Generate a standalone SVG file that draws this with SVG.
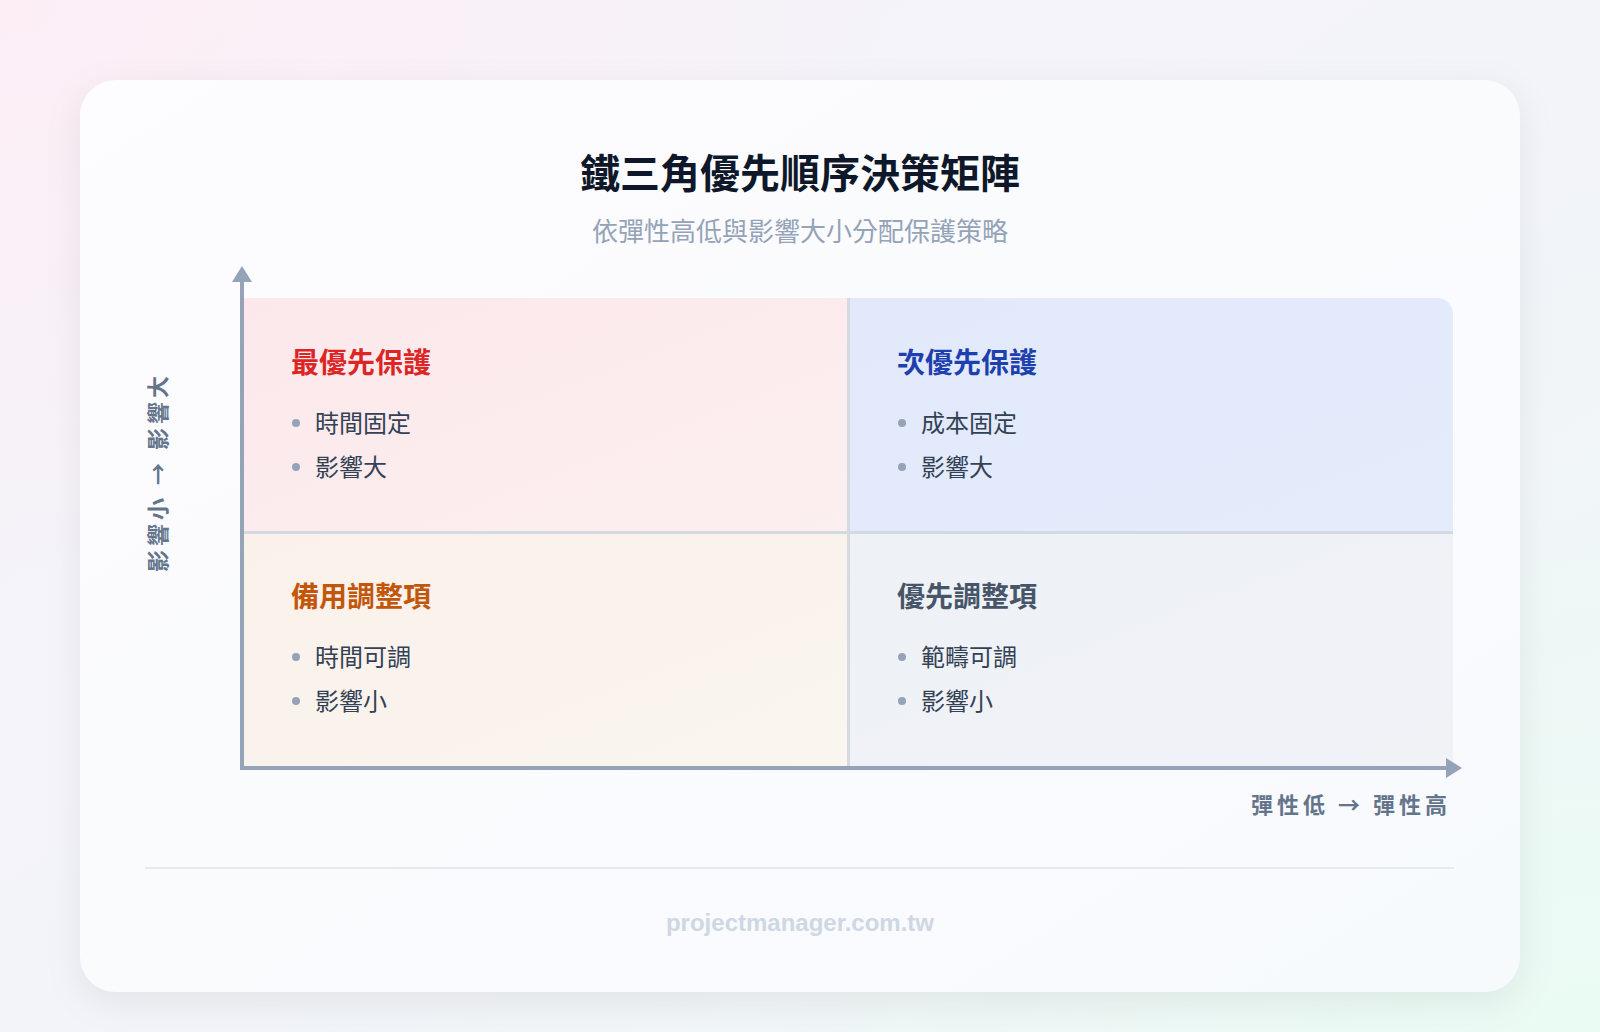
<svg xmlns="http://www.w3.org/2000/svg" width="1600" height="1032" viewBox="0 0 1600 1032">
  <defs>
    <linearGradient id="bgBase" x1="0" y1="0" x2="1" y2="1">
      <stop offset="0" stop-color="#f7f3f9"/>
      <stop offset="0.5" stop-color="#f3f4f9"/>
      <stop offset="1" stop-color="#eef8f6"/>
    </linearGradient>
    <radialGradient id="bgPink" cx="0" cy="0" r="0.55">
      <stop offset="0" stop-color="#fdeef6" stop-opacity="1"/>
      <stop offset="1" stop-color="#fdeef6" stop-opacity="0"/>
    </radialGradient>
    <radialGradient id="bgMint" cx="1" cy="1" r="0.5">
      <stop offset="0" stop-color="#eafbf4" stop-opacity="1"/>
      <stop offset="1" stop-color="#eafbf4" stop-opacity="0"/>
    </radialGradient>
    <linearGradient id="cardFill" x1="0" y1="0" x2="1" y2="1">
      <stop offset="0" stop-color="#fdfcfe"/>
      <stop offset="1" stop-color="#f7fafd"/>
    </linearGradient>
    <linearGradient id="gTL" x1="0" y1="0" x2="1" y2="1">
      <stop offset="0" stop-color="#fce8eb"/>
      <stop offset="1" stop-color="#fcefef"/>
    </linearGradient>
    <linearGradient id="gTR" x1="0" y1="0" x2="1" y2="1">
      <stop offset="0" stop-color="#e2e9fb"/>
      <stop offset="1" stop-color="#e4ebfb"/>
    </linearGradient>
    <linearGradient id="gBL" x1="0" y1="0" x2="1" y2="1">
      <stop offset="0" stop-color="#faf1ea"/>
      <stop offset="1" stop-color="#faf5ef"/>
    </linearGradient>
    <linearGradient id="gBR" x1="0" y1="0" x2="1" y2="1">
      <stop offset="0" stop-color="#eef1f6"/>
      <stop offset="1" stop-color="#f0f2f6"/>
    </linearGradient>
    <filter id="cardShadow" x="-10%" y="-10%" width="120%" height="125%">
      <feDropShadow dx="0" dy="10" stdDeviation="18" flood-color="#0f172a" flood-opacity="0.07"/>
    </filter>
    <marker id="arrowHead" viewBox="0 0 16 20" refX="0" refY="10" markerWidth="16" markerHeight="20" markerUnits="userSpaceOnUse" orient="auto">
      <path d="M0,0 L16,10 L0,20 Z" fill="#94a3b8"/>
    </marker>
    <style>
      .cjk { font-family: "Noto Sans CJK TC", "Noto Sans CJK SC", sans-serif; }
      .title { font-size: 40px; font-weight: 700; fill: #0f172a; }
      .subtitle { font-size: 26px; font-weight: 400; fill: #94a3b8; }
      .qtitle { font-size: 28px; font-weight: 700; }
      .item { font-size: 24px; font-weight: 400; fill: #334155; }
      .dot { fill: #94a3b8; }
      .axislabel { font-size: 22px; font-weight: 700; fill: #64748b; letter-spacing: 4px; }
      .axis { stroke: #94a3b8; stroke-width: 4; fill: none; }
      .divider { stroke: #d4d9e2; stroke-width: 3; }
      .footer { font-family: "Liberation Sans", Arial, sans-serif; font-size: 24px; font-weight: 700; fill: #cfd7e3; }
    </style>
  </defs>

  <!-- background -->
  <rect x="0" y="0" width="1600" height="1032" fill="url(#bgBase)"/>
  <rect x="0" y="0" width="1600" height="1032" fill="url(#bgPink)"/>
  <rect x="0" y="0" width="1600" height="1032" fill="url(#bgMint)"/>

  <!-- card -->
  <rect x="80" y="80" width="1440" height="912" rx="36" fill="url(#cardFill)" filter="url(#cardShadow)"/>

  <!-- heading -->
  <g id="heading">
    <text class="cjk title" x="800" y="188" text-anchor="middle">鐵三角優先順序決策矩陣</text>
    <text class="cjk subtitle" x="800" y="241" text-anchor="middle">依彈性高低與影響大小分配保護策略</text>
  </g>

  <!-- quadrants -->
  <g id="q-top-left">
    <rect x="244" y="298" width="604" height="234" fill="url(#gTL)"/>
    <text class="cjk qtitle" x="291" y="373" fill="#dc2626">最優先保護</text>
    <circle class="dot" cx="296" cy="423" r="4"/>
    <text class="cjk item" x="315" y="432">時間固定</text>
    <circle class="dot" cx="296" cy="467" r="4"/>
    <text class="cjk item" x="315" y="476">影響大</text>
  </g>

  <g id="q-top-right">
    <path d="M848,298 H1437 A16,16 0 0 1 1453,314 V532 H848 Z" fill="url(#gTR)"/>
    <text class="cjk qtitle" x="897" y="373" fill="#1e40af">次優先保護</text>
    <circle class="dot" cx="902" cy="423" r="4"/>
    <text class="cjk item" x="921" y="432">成本固定</text>
    <circle class="dot" cx="902" cy="467" r="4"/>
    <text class="cjk item" x="921" y="476">影響大</text>
  </g>

  <g id="q-bottom-left">
    <rect x="244" y="532" width="604" height="234" fill="url(#gBL)"/>
    <text class="cjk qtitle" x="291" y="607" fill="#c2570c">備用調整項</text>
    <circle class="dot" cx="296" cy="657" r="4"/>
    <text class="cjk item" x="315" y="666">時間可調</text>
    <circle class="dot" cx="296" cy="701" r="4"/>
    <text class="cjk item" x="315" y="710">影響小</text>
  </g>

  <g id="q-bottom-right">
    <rect x="848" y="532" width="605" height="234" fill="url(#gBR)"/>
    <text class="cjk qtitle" x="897" y="607" fill="#475569">優先調整項</text>
    <circle class="dot" cx="902" cy="657" r="4"/>
    <text class="cjk item" x="921" y="666">範疇可調</text>
    <circle class="dot" cx="902" cy="701" r="4"/>
    <text class="cjk item" x="921" y="710">影響小</text>
  </g>

  <!-- connectors: dividers and axes -->
  <g id="connectors">
    <line class="divider" x1="244" y1="532.5" x2="1453" y2="532.5"/>
    <line class="divider" x1="848.5" y1="298" x2="848.5" y2="766"/>
    <line class="axis" x1="242" y1="770" x2="242" y2="282" marker-end="url(#arrowHead)"/>
    <line class="axis" x1="240" y1="768" x2="1446" y2="768" marker-end="url(#arrowHead)"/>
  </g>

  <!-- axis labels -->
  <g id="axis-labels">
    <text class="cjk axislabel" x="1451" y="813" text-anchor="end">彈性低 → 彈性高</text>
    <text class="cjk axislabel" transform="translate(166,474) rotate(-90)" x="2" y="0" text-anchor="middle">影響小 → 影響大</text>
  </g>

  <!-- footer -->
  <g id="footer">
    <line x1="145" y1="868" x2="1454" y2="868" stroke="#e6eaf0" stroke-width="2"/>
    <text class="footer" x="800" y="931" text-anchor="middle">projectmanager.com.tw</text>
  </g>
</svg>
